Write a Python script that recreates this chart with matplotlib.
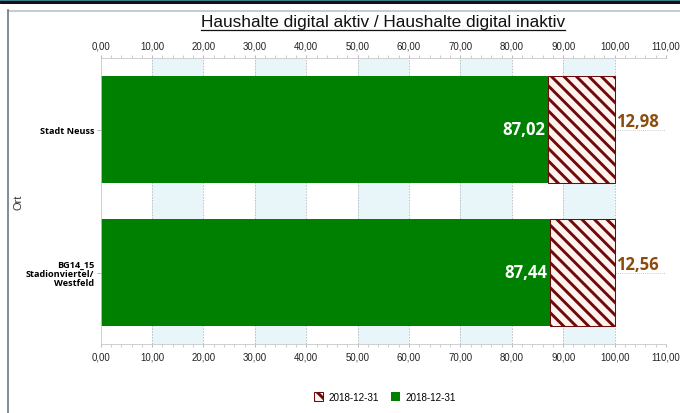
import matplotlib
matplotlib.use("Agg")
from matplotlib import pyplot as plt
from matplotlib.patches import Rectangle, Patch
import numpy as np

orte = ["Stadt Neuss", "BG14_15\nStadionviertel/\nWestfeld"]
aktiv = [87.02, 87.44]
inaktiv = [12.98, 12.56]
legend_labels = ["2018-12-31", "2018-12-31"]

DPI = 75
plt.rcParams['hatch.linewidth'] = 2.8
fig = plt.figure(figsize=(680 / DPI, 414 / DPI), dpi=DPI)

# window frame
fig.patches.append(Rectangle((0, 1 - 2 / 414), 1, 2 / 414, transform=fig.transFigure,
                             color="#3d7f95", zorder=0))
fig.patches.append(Rectangle((0, 1 - 4 / 414), 1, 2 / 414, transform=fig.transFigure,
                             color="#111111", zorder=0))
fig.add_artist(plt.Line2D([8 / 680, 1], [1 - 12 / 414] * 2, transform=fig.transFigure,
                          color="#b8c4cc", lw=1.6))
fig.add_artist(plt.Line2D([8 / 680] * 2, [0, 1 - 11 / 414], transform=fig.transFigure,
                          color="#6a7a88", lw=1.6))

axw = 666 - 100.7
ax = fig.add_axes([100.7 / 680, 1 - 345 / 414, axw / 680, (345 - 59) / 414])

y = np.arange(len(orte))
for x0 in range(10, 110, 20):
    ax.axvspan(x0, x0 + 10, color="#e8f6f9", zorder=0, lw=0)
for xv in range(10, 111, 10):
    ax.axvline(xv, color="#b4bcc4", lw=0.8, ls=(0, (2, 1.5)), zorder=0.5)
for yv in y:
    ax.axhline(yv, color="#b4bcc4", lw=0.8, ls=(0, (1, 1.5)), zorder=0.5)

ax.barh(y, aktiv, height=0.75, color="#008000", zorder=2)
ax.barh(y, inaktiv, left=aktiv, height=0.75, facecolor="#fff3f0",
        edgecolor="#6e0a0a", hatch="\\\\", lw=1, zorder=2)

for i in range(len(orte)):
    ax.annotate(f"{aktiv[i]:.2f}".replace(".", ","), (aktiv[i], y[i]),
                xytext=(-3, 0), textcoords="offset points", ha="right", va="center",
                color="white", fontsize=16, fontweight="bold", family="Open Sans")
    ax.annotate(f"{inaktiv[i]:.2f}".replace(".", ","), (aktiv[i] + inaktiv[i], y[i]),
                xytext=(1, 3), textcoords="offset points", ha="left", va="baseline",
                color="#8b4c0c", fontsize=16, fontweight="bold", family="Open Sans")

ax.set_xlim(0, 110)
ax.set_ylim(1.5, -0.5)
ax.set_xticks(range(0, 111, 10))
ax.set_xticks(range(0, 111, 2), minor=True)
ax.set_xticklabels([f"{v:.2f}".replace(".", ",") for v in range(0, 111, 10)],
                   fontsize=9.3, family="Liberation Sans", color="#222222")
ax.tick_params(axis="x", which="both", top=True, labeltop=True, length=3,
               color="#b0b0b0", pad=4)
ax.set_yticks(y)
ax.set_yticklabels(orte, fontsize=8.8, fontweight="bold", family="Open Sans",
                   linespacing=1.0)
ax.tick_params(axis="y", length=4, color="#b0b0b0", pad=2)

for s in ["left", "top", "bottom"]:
    ax.spines[s].set_color("#c8c8c8")
ax.spines["right"].set_visible(False)

ax.set_ylabel("Ort", fontsize=10.5, color="#333333", family="Liberation Sans")
ax.yaxis.set_label_coords(-77 / axw, 0.5)

title = fig.text(383 / 680, 1 - 22 / 414, "Haushalte digital aktiv / Haushalte digital inaktiv",
                 ha="center", va="center", fontsize=16.5, family="Liberation Sans",
                 color="#111111")
fig.canvas.draw()
bb = title.get_window_extent().transformed(fig.transFigure.inverted())
fig.add_artist(plt.Line2D([bb.x0, bb.x1], [1 - 31 / 414] * 2,
                          transform=fig.transFigure, color="#111111", lw=1.2))

handles = [Patch(facecolor="#fff3f0", edgecolor="#6e0a0a", hatch="\\\\", lw=1),
           Patch(facecolor="#008000")]
fig.legend(handles, legend_labels, loc="center", bbox_to_anchor=(385 / 680, 1 - 398 / 414),
           ncol=2, frameon=False, handlelength=0.9, handleheight=0.9,
           handletextpad=0.6, columnspacing=1.2, prop={"family": "Liberation Sans", "size": 9.5})

fig.savefig("out.png", dpi=DPI)
